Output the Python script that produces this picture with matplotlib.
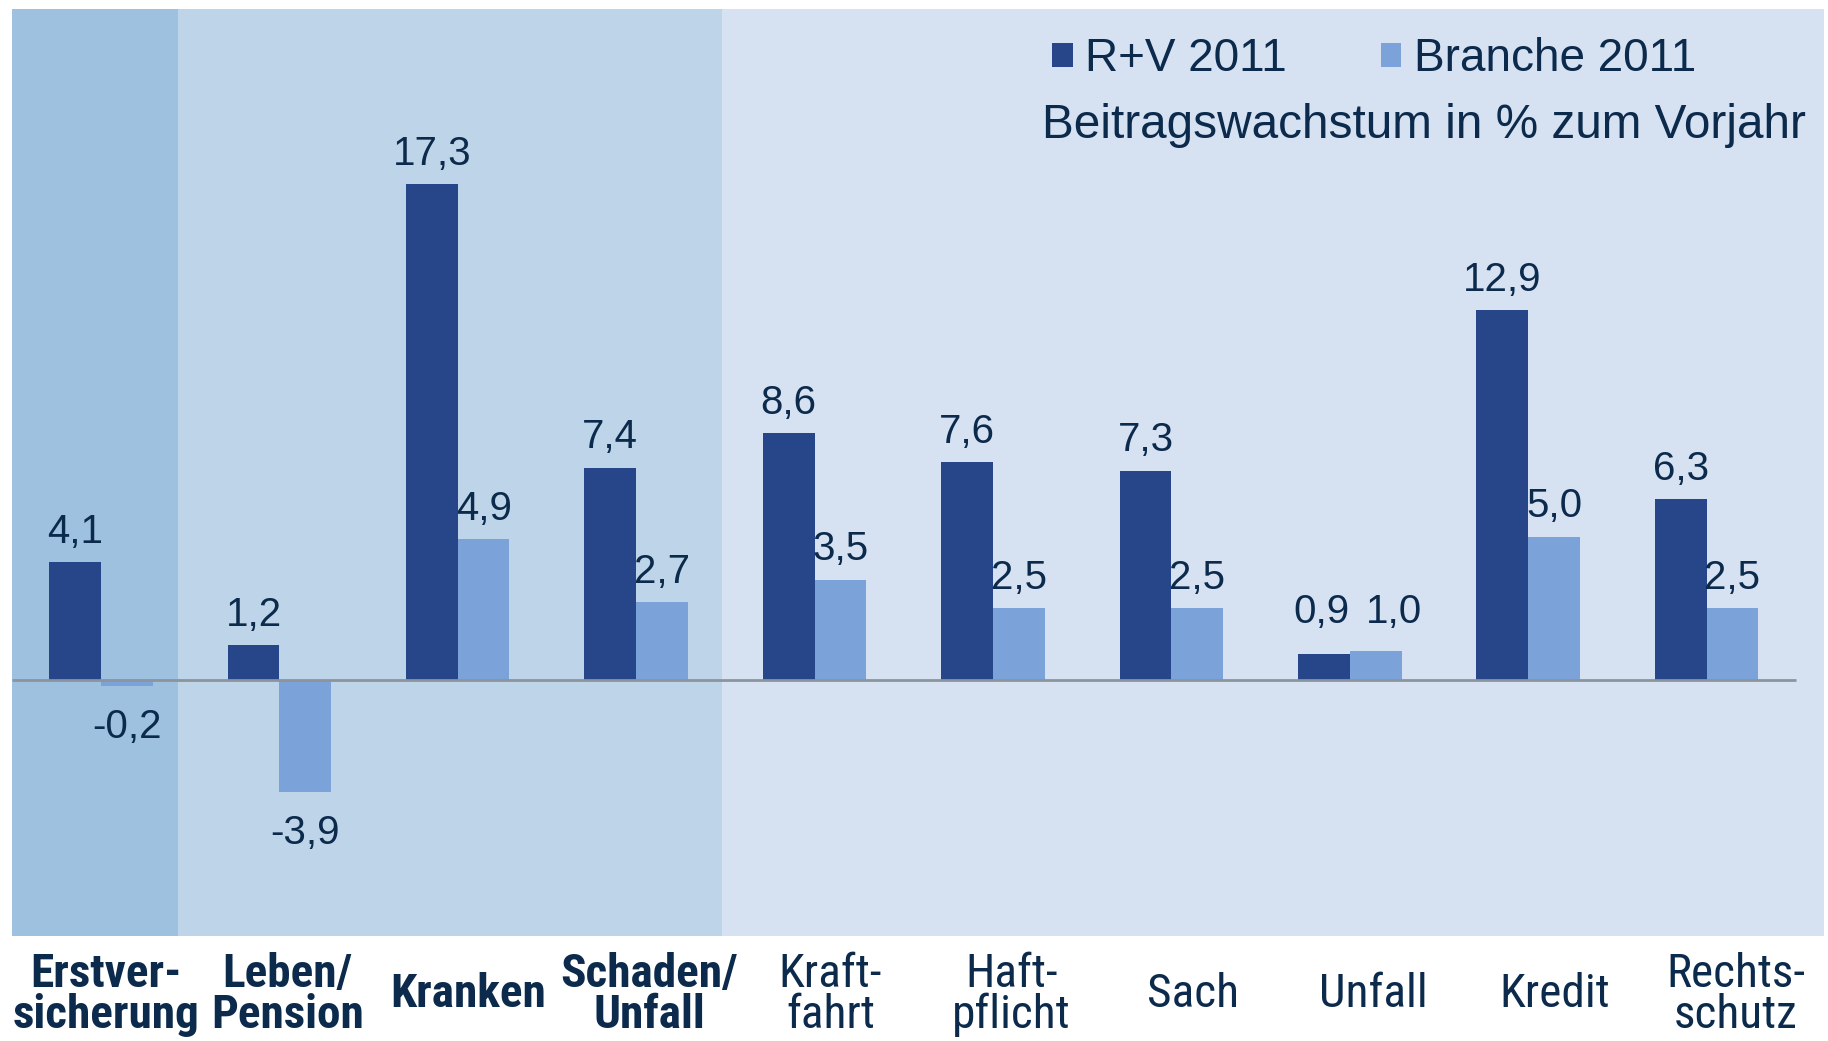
import matplotlib
matplotlib.use("Agg")
import matplotlib.pyplot as plt

categories = ["Erstver-\nsicherung", "Leben/\nPension", "Kranken", "Schaden/\nUnfall",
              "Kraft-\nfahrt", "Haft-\npflicht", "Sach", "Unfall", "Kredit", "Rechts-\nschutz"]
bold_cats = [True, True, True, True, False, False, False, False, False, False]
rv_2011 = [4.1, 1.2, 17.3, 7.4, 8.6, 7.6, 7.3, 0.9, 12.9, 6.3]
branche_2011 = [-0.2, -3.9, 4.9, 2.7, 3.5, 2.5, 2.5, 1.0, 5.0, 2.5]

plt.rcParams["font.family"] = ["Liberation Sans", "DejaVu Sans"]
narrow = ["Roboto Condensed", "PT Sans Narrow", "Liberation Sans"]

txt = "#0B2A4C"
c_rv = "#264689"
c_br = "#7BA3DA"

fig = plt.figure(figsize=(18.28, 10.41), dpi=100)
ax = fig.add_axes([0.0064, 0.1009, 0.9916, 0.8901])
ax.set_facecolor("#D6E1F2")
ax.axvspan(-0.5, 0.43, color="#9DC1DE", lw=0)
ax.axvspan(0.43, 3.48, color="#BED4E8", lw=0)

x = list(range(len(categories)))
w = 0.29
b1 = ax.bar([i - w / 2 for i in x], rv_2011, w, color=c_rv, label="R+V 2011", zorder=3)
b2 = ax.bar([i + w / 2 for i in x], branche_2011, w, color=c_br, label="Branche 2011", zorder=3)
ax.hlines(0, -0.5, 9.5, color="#8C949C", lw=2, zorder=4)

# small nudges (points) where the two labels would collide
nudge = {(0, 7): (-2, 8), (1, 7): (13, 6)}
for k, (bars, vals) in enumerate([(b1, rv_2011), (b2, branche_2011)]):
    for i, (r, v) in enumerate(zip(bars, vals)):
        s = f"{v:.1f}".replace(".", ",")
        cx = r.get_x() + r.get_width() / 2
        dx, dy = nudge.get((k, i), (0, 0))
        if v >= 0:
            ax.annotate(s, (cx, v), xytext=(dx, 14 + dy), textcoords="offset points",
                        ha="center", va="baseline", fontsize=29, color=txt)
        else:
            ax.annotate(s, (cx, v), xytext=(dx, -16 + dy), textcoords="offset points",
                        ha="center", va="top", fontsize=29, color=txt)

trans = ax.get_xaxis_transform()
for i, (lab, b) in enumerate(zip(categories, bold_cats)):
    ax.text(0.03 + i * 1.015, -0.063, lab, transform=trans, ha="center", va="center",
            fontsize=34, family=narrow, fontweight="bold" if b else "normal",
            color=txt, linespacing=0.92)

leg = ax.legend(loc="upper left", bbox_to_anchor=(0.574, 0.970), ncol=2, frameon=False,
                fontsize=33, handlelength=0.45, handleheight=0.45, handletextpad=0.27,
                columnspacing=2.05, borderpad=0, borderaxespad=0)
for t in leg.get_texts():
    t.set_color(txt)
ax.text(0.990, 0.861, "Beitragswachstum in % zum Vorjahr", transform=ax.transAxes,
        ha="right", va="baseline", fontsize=34.4, color=txt)

ax.set_xlim(-0.5, 9.66)
ax.set_ylim(-8.94, 23.4)
ax.set_xticks([])
ax.set_yticks([])
for s in ax.spines.values():
    s.set_visible(False)

fig.savefig("out.png", dpi=100)
